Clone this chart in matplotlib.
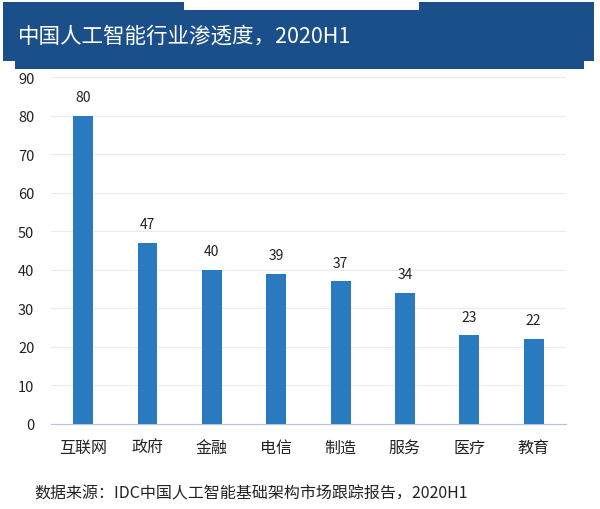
import matplotlib
matplotlib.use("Agg")
import matplotlib.pyplot as plt
from matplotlib.patches import Rectangle

plt.rcParams['font.family'] = ['Noto Sans CJK SC', 'DejaVu Sans']

industries = ["互联网", "政府", "金融", "电信", "制造", "服务", "医疗", "教育"]
penetration = [80, 47, 40, 39, 37, 34, 23, 22]
y_ticks = [0, 10, 20, 30, 40, 50, 60, 70, 80, 90]

title = "中国人工智能行业渗透度，2020H1"
source = "数据来源：IDC中国人工智能基础架构市场跟踪报告，2020H1"

fig = plt.figure(figsize=(6, 5.1), dpi=100)

# title banner
banner = "#1b4f8a"
fig.patches.append(Rectangle((0.005, 0.878), 0.985, 0.116, transform=fig.transFigure,
                             facecolor=banner, edgecolor="none"))
fig.patches.append(Rectangle((0.025, 0.862), 0.948, 0.02, transform=fig.transFigure,
                             facecolor=banner, edgecolor="none"))
fig.patches.append(Rectangle((0.307, 0.978), 0.392, 0.022, transform=fig.transFigure,
                             facecolor="white", edgecolor="none"))
fig.text(0.03, 0.928, title, color="white", fontsize=15.5, va="center", ha="left")

ax = fig.add_axes([0.085, 0.167, 0.858, 0.68])
x = range(len(industries))
ax.bar(x, penetration, width=0.31, color="#2a7abf", zorder=3)
for xi, v in zip(x, penetration):
    ax.text(xi, v + 3, str(v), ha="center", va="bottom", fontsize=10, color="#222222")

ax.set_xlim(-0.5, len(industries) - 0.5)
ax.set_ylim(0, 90)
ax.set_yticks(y_ticks)
ax.set_xticks(list(x))
ax.set_xticklabels(industries, fontsize=11.5, color="#222222")
ax.tick_params(axis="y", labelsize=10.5, colors="#222222", length=0, pad=12)
ax.tick_params(axis="x", length=0, pad=11)
ax.grid(axis="y", color="#ececec", linewidth=0.8, zorder=0)
for side in ["top", "right", "left"]:
    ax.spines[side].set_visible(False)
ax.spines["bottom"].set_color("#b8c4d8")

fig.text(0.058, 0.031, source, fontsize=11.5, color="#222222", va="center", ha="left")

plt.savefig("out.png", dpi=100)
